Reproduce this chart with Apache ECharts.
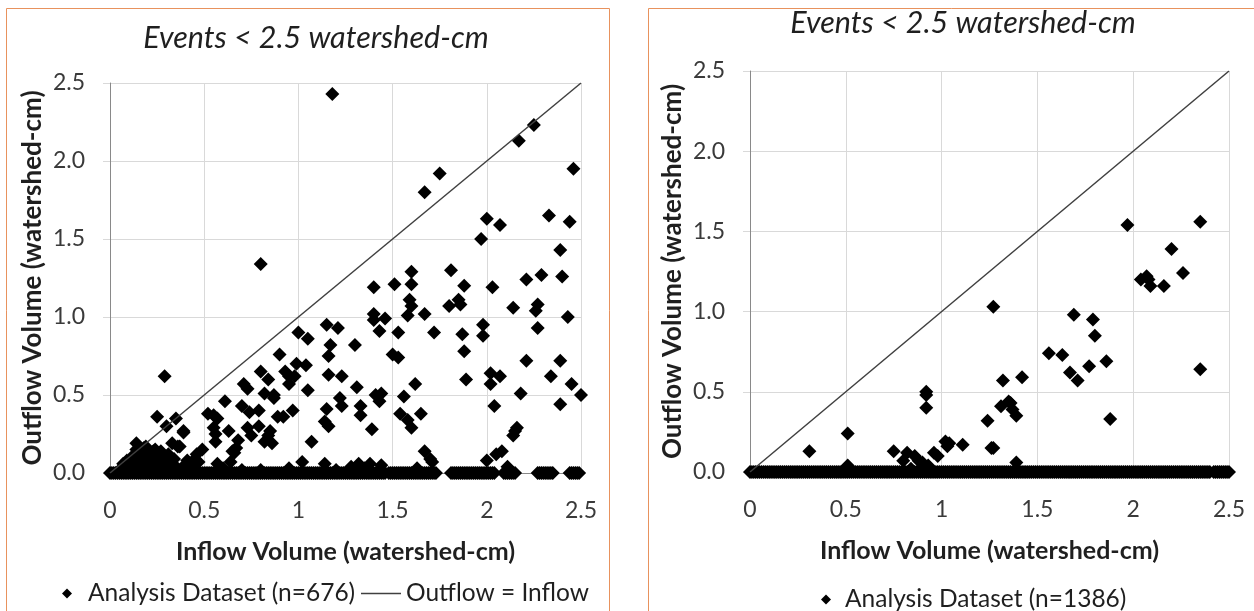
<!DOCTYPE html>
<html>
<head>
<meta charset="utf-8">
<script src="https://cdn.jsdelivr.net/npm/echarts@6.0.0/dist/echarts.min.js"></script>
<style>
html, body { margin: 0; padding: 0; background: #fff; }
#main { width: 1254px; height: 611px; }
</style>
</head>
<body>
<div id="main"></div>
<script>
// 数据
var titleText = 'Events < 2.5 watershed-cm';
var xName = 'Inflow Volume (watershed-cm)';
var yName = 'Outflow Volume (watershed-cm)';
var xTickLabels = ['0', '0.5', '1', '1.5', '2', '2.5'];
var yTickLabels = ['0.0', '0.5', '1.0', '1.5', '2.0', '2.5'];
var leftSeriesName = 'Analysis Dataset (n=676)';
var rightSeriesName = 'Analysis Dataset (n=1386)';
var lineName = 'Outflow = Inflow';
var onePoints = [[0, 0], [2.5, 2.5]];

// left panel, points above zero
var leftPoints = [
    [1.18,2.43],[1.75,1.92],[1.67,1.80],[2.17,2.13],[2.25,2.23],[2.46,1.95],
    [2.00,1.63],[2.07,1.59],[1.97,1.50],[2.33,1.65],[2.44,1.61],[2.39,1.43],
    [0.80,1.34],[1.60,1.29],[1.81,1.30],[2.29,1.27],[2.40,1.26],[2.21,1.24],
    [1.51,1.21],[1.60,1.21],[1.40,1.19],[1.88,1.20],[2.03,1.19],
    [1.59,1.11],[1.60,1.07],[1.85,1.11],[1.80,1.07],[1.86,1.08],[2.14,1.06],[2.27,1.08],[2.26,1.04],
    [1.40,1.02],[1.58,1.01],[1.67,1.02],[1.40,0.98],[1.46,0.99],[2.43,1.00],[1.98,0.95],
    [1.15,0.95],[1.21,0.93],[1.00,0.90],[1.43,0.91],[1.53,0.90],[1.72,0.90],[1.87,0.89],[1.98,0.88],[2.27,0.93],
    [1.05,0.86],[1.30,0.82],[1.17,0.82],[0.90,0.76],[1.16,0.75],[1.50,0.76],[1.53,0.74],[1.88,0.78],[2.21,0.72],[2.39,0.72],
    [0.99,0.70],[1.04,0.69],[0.93,0.65],[0.80,0.65],[1.16,0.63],[1.23,0.62],[0.29,0.62],[0.95,0.62],[0.98,0.62],
    [2.02,0.64],[2.07,0.62],[2.34,0.62],[0.84,0.60],[1.89,0.60],[0.95,0.57],[0.71,0.57],[1.62,0.57],[2.02,0.57],[2.45,0.57],
    [0.73,0.54],[1.31,0.55],[1.05,0.53],[0.61,0.46],[1.56,0.49],[0.82,0.51],[1.44,0.51],[0.87,0.50],[2.18,0.51],[2.50,0.50],
    [1.22,0.48],[1.41,0.50],[0.87,0.48],[1.23,0.43],[0.70,0.43],[1.33,0.43],[1.43,0.46],[2.04,0.43],[2.39,0.44],
    [0.97,0.40],[1.15,0.41],[0.79,0.40],[0.74,0.39],[0.25,0.36],[1.33,0.37],[0.52,0.38],[0.55,0.37],[0.57,0.35],[1.54,0.38],[1.65,0.38],
    [0.35,0.35],[0.89,0.36],[0.92,0.36],[1.58,0.34],[1.14,0.33],[1.60,0.29],[0.30,0.30],[0.55,0.29],[0.79,0.30],[1.16,0.30],
    [2.16,0.29],[2.15,0.27],[0.63,0.27],[0.73,0.29],[0.85,0.27],[1.39,0.28],[0.39,0.27],[0.56,0.25],[0.75,0.24],[0.84,0.24],[2.14,0.24],
    [0.56,0.20],[0.68,0.21],[0.82,0.20],[0.86,0.19],[1.07,0.20],[0.14,0.19],[0.33,0.19],[0.37,0.17],[0.18,0.16],[0.67,0.16],[0.24,0.15],
    [2.08,0.14],[1.67,0.14],[0.49,0.15],[0.66,0.13],[0.27,0.14],[2.05,0.12],[1.70,0.09],[1.71,0.07],[2.00,0.08],[0.46,0.12],
    [1.02,0.07],[1.14,0.06],[1.38,0.06],[1.44,0.05],[0.57,0.06],[0.64,0.07],[1.32,0.06],[2.11,0.04],[0.45,0.09],[1.63,0.03],
    [0.16,0.14],[0.23,0.14],[0.36,0.17],[0.39,0.26],[0.47,0.07],[0.65,0.14],[0.13,0.04],[0.05,0.02],[0.08,0.04],[0.10,0.03],
    [0.12,0.06],[0.15,0.08],[0.17,0.05],[0.19,0.03],[0.20,0.07],[0.22,0.04],[0.26,0.06],[0.28,0.03],[0.30,0.05],[0.35,0.04],
    [0.38,0.03],[0.40,0.05],[0.15,0.11],[0.18,0.10],[0.20,0.12],[0.11,0.09],[0.25,0.09],[0.60,0.03],[0.80,0.02],[0.95,0.03],
    [1.20,0.02],[1.28,0.04],[1.35,0.03],[0.70,0.02],
    [0.07,0.06],[0.09,0.08],[0.13,0.12],[0.21,0.09],[0.23,0.06],[0.27,0.08],[0.29,0.10],[0.32,0.07],[0.34,0.09],
    [0.41,0.08],[0.43,0.04],[0.16,0.03],[0.24,0.12],[0.31,0.12],[0.14,0.15],[0.19,0.17]
];
// left panel, the dense band of points sitting on zero
var leftZeroX = [
    0.00,0.01,0.02,0.03,0.04,0.05,0.06,0.07,0.08,0.09,0.10,0.11,0.12,0.13,0.14,0.15,0.16,0.17,0.18,0.19,
    0.20,0.21,0.22,0.23,0.24,0.25,0.26,0.27,0.28,0.29,0.30,0.31,0.32,0.33,0.34,0.35,0.36,0.37,0.38,0.39,
    0.40,0.41,0.42,0.43,0.44,0.45,0.46,0.47,0.48,0.49,0.50,0.51,0.52,0.53,0.54,0.55,0.56,0.57,0.58,0.59,
    0.60,0.61,0.62,0.63,0.64,0.65,0.66,0.67,0.68,0.69,0.70,0.71,0.72,0.73,0.74,0.75,0.76,0.77,0.78,0.79,
    0.80,0.81,0.82,0.83,0.84,0.85,0.86,0.87,0.88,0.89,0.90,0.91,0.92,0.93,0.94,0.95,0.96,0.97,0.98,0.99,
    1.00,1.01,1.02,1.03,1.04,1.05,1.06,1.07,1.08,1.09,1.10,1.11,1.12,1.13,1.14,1.15,1.16,1.17,1.18,1.19,
    1.20,1.21,1.22,1.23,1.24,1.25,1.26,1.27,1.28,1.29,1.30,1.31,1.32,1.33,1.34,1.35,1.36,1.37,1.38,1.39,
    1.40,1.41,1.42,1.43,1.44,1.45,1.46,
    1.48,1.49,1.50,1.51,1.52,1.53,1.54,1.55,1.56,1.57,1.58,1.59,1.60,1.61,1.62,1.63,1.64,1.65,1.66,1.67,
    1.68,1.69,1.70,1.71,1.72,1.73,
    1.81,1.82,1.83,1.84,1.85,1.86,1.87,1.88,1.89,1.90,1.91,1.92,1.93,1.94,1.95,1.96,1.97,1.98,1.99,2.00,
    2.01,2.02,2.03,2.04,
    2.09,2.10,2.11,2.12,2.13,2.14,2.15,
    2.27,2.28,2.29,2.30,2.31,2.32,2.33,2.34,2.35,
    2.44,2.45,2.46,2.47,2.48,2.49
];

// right panel, points above zero
var rightPoints = [
    [2.35,1.56],[1.97,1.54],[2.20,1.39],[2.26,1.24],[2.04,1.20],[2.07,1.22],[2.08,1.20],[2.09,1.16],[2.16,1.16],
    [1.27,1.03],[1.69,0.98],[1.79,0.95],[1.80,0.85],[1.56,0.74],[1.63,0.73],[1.86,0.69],[1.67,0.62],[1.77,0.66],
    [1.71,0.57],[2.35,0.64],[1.32,0.57],[1.42,0.59],[0.92,0.50],[0.92,0.48],[0.92,0.40],[1.31,0.41],[1.35,0.44],
    [1.36,0.43],[1.37,0.39],[1.39,0.35],[1.24,0.32],[1.88,0.33],[0.51,0.24],[0.31,0.13],[0.75,0.13],[0.82,0.12],
    [0.80,0.07],[0.86,0.10],[0.88,0.07],[0.90,0.06],[0.96,0.12],[0.98,0.10],[1.02,0.19],[1.04,0.18],[1.03,0.16],
    [1.11,0.17],[1.26,0.15],[1.27,0.15],[1.39,0.06],[0.51,0.04],[0.93,0.04],[0.91,0.03],[0.84,0.02]
];
// right panel, the dense band of points sitting on zero
var rightZeroX = [
    0.00,0.01,0.02,0.03,0.04,0.05,0.06,0.07,0.08,0.09,0.10,0.11,0.12,0.13,0.14,0.15,0.16,0.17,0.18,0.19,
    0.20,0.21,0.22,0.23,0.24,0.25,0.26,0.27,0.28,0.29,0.30,0.31,0.32,0.33,0.34,0.35,0.36,0.37,0.38,0.39,
    0.40,0.41,0.42,0.43,0.44,0.45,0.46,0.47,0.48,0.49,0.50,0.51,0.52,0.53,0.54,0.55,0.56,0.57,0.58,0.59,
    0.60,0.61,0.62,0.63,0.64,0.65,0.66,0.67,0.68,0.69,0.70,0.71,0.72,0.73,0.74,0.75,0.76,0.77,0.78,0.79,
    0.80,0.81,0.82,0.83,0.84,0.85,0.86,0.87,0.88,0.89,0.90,0.91,0.92,0.93,0.94,0.95,0.96,0.97,0.98,0.99,
    1.00,1.01,1.02,1.03,1.04,1.05,1.06,1.07,1.08,1.09,1.10,1.11,1.12,1.13,1.14,1.15,1.16,1.17,1.18,1.19,
    1.20,1.21,1.22,1.23,1.24,1.25,1.26,1.27,1.28,1.29,1.30,1.31,1.32,1.33,1.34,1.35,1.36,1.37,1.38,1.39,
    1.40,1.41,1.42,1.43,1.44,1.45,1.46,1.47,1.48,1.49,1.50,1.51,1.52,1.53,1.54,1.55,1.56,1.57,1.58,1.59,
    1.60,1.61,1.62,1.63,1.64,1.65,1.66,1.67,1.68,1.69,1.70,1.71,1.72,1.73,1.74,1.75,1.76,1.77,1.78,1.79,
    1.80,1.81,1.82,1.83,1.84,1.85,1.86,1.87,1.88,1.89,1.90,1.91,1.92,1.93,1.94,1.95,1.96,1.97,1.98,1.99,
    2.00,2.01,2.02,2.03,2.04,2.05,2.06,2.07,2.08,2.09,2.10,2.11,2.12,2.13,2.14,2.15,2.16,2.17,2.18,2.19,
    2.20,2.21,2.22,2.23,2.24,2.25,2.26,2.27,2.28,2.29,2.30,2.31,2.32,2.33,2.34,2.35,2.36,2.37,2.38,2.39,
    2.40,2.42,2.43,2.44,2.45,2.46,2.47,2.48,2.49,2.50
];

var FONT = 'Lato';
var TEXT_COLOR = '#1f1f1f';
var GRID_COLOR = '#d9d9d9';
var FRAME_COLOR = '#e8925d';

function onZero(xs) {
    return xs.map(function (x) { return [x, 0]; });
}

function tickLabel(labels) {
    return function (v) {
        return labels[Math.round(v / 0.5)];
    };
}

function xAxisOf(gridIndex) {
    return {
        gridIndex: gridIndex,
        type: 'value',
        min: 0, max: 2.5, interval: 0.5,
        name: xName,
        nameLocation: 'middle',
        nameGap: 66,
        nameTextStyle: { fontFamily: FONT, fontSize: 25, fontWeight: 'bold', color: TEXT_COLOR },
        axisLine: { lineStyle: { color: '#898989', width: 1 } },
        axisTick: { show: false },
        axisLabel: { formatter: tickLabel(xTickLabels), fontFamily: FONT, fontSize: 23, color: '#3a3a3a', margin: 26 },
        splitLine: { lineStyle: { color: GRID_COLOR, width: 1 } }
    };
}

function yAxisOf(gridIndex) {
    return {
        gridIndex: gridIndex,
        type: 'value',
        min: 0, max: 2.5, interval: 0.5,
        name: yName,
        nameLocation: 'middle',
        nameGap: 64,
        nameTextStyle: { fontFamily: FONT, fontSize: 26, fontWeight: 'bold', color: TEXT_COLOR },
        axisLine: { show: true, lineStyle: { color: '#898989', width: 1 } },
        axisTick: { show: true, length: 7, lineStyle: { color: GRID_COLOR } },
        axisLabel: { formatter: tickLabel(yTickLabels), fontFamily: FONT, fontSize: 23, color: '#3a3a3a', margin: 25 },
        splitLine: { lineStyle: { color: GRID_COLOR, width: 1 } }
    };
}

function legendTextOf(padLeft) {
    return { fontFamily: FONT, fontSize: 24.5, color: TEXT_COLOR, padding: [0, 0, 0, padLeft] };
}

var chart = echarts.init(document.getElementById('main'));

var option = {
    backgroundColor: '#fff',
    animation: false,
    title: [
        { text: titleText, left: 311, top: 18, textAlign: 'center',
          textStyle: { fontFamily: FONT, fontSize: 30.5, fontStyle: 'italic', fontWeight: 'normal', color: TEXT_COLOR } },
        { text: titleText, left: 958, top: 3, textAlign: 'center',
          textStyle: { fontFamily: FONT, fontSize: 30.5, fontStyle: 'italic', fontWeight: 'normal', color: TEXT_COLOR } }
    ],
    legend: [
        { data: [leftSeriesName], left: 57, top: 576, itemWidth: 10, itemHeight: 10, icon: 'diamond',
          itemStyle: { opacity: 1 }, textStyle: legendTextOf(11) },
        { data: [{ name: lineName, icon: 'rect' }], left: 356, top: 576, itemWidth: 40, itemHeight: 1.5,
          textStyle: legendTextOf(0) },
        { data: [rightSeriesName], left: 816, top: 582, itemWidth: 10, itemHeight: 10, icon: 'diamond',
          itemStyle: { opacity: 1 }, textStyle: legendTextOf(9) }
    ],
    grid: [
        { left: 110, top: 83, width: 471, height: 390 },
        { left: 750, top: 71, width: 479, height: 401 }
    ],
    xAxis: [xAxisOf(0), xAxisOf(1)],
    yAxis: [yAxisOf(0), yAxisOf(1)],
    graphic: [
        { type: 'rect', silent: true, z: -1,
          shape: { x: 6.5, y: 8.5, width: 603, height: 640 },
          style: { fill: 'none', stroke: FRAME_COLOR, lineWidth: 1 } },
        { type: 'rect', silent: true, z: -1,
          shape: { x: 648.5, y: 8.5, width: 640, height: 640 },
          style: { fill: 'none', stroke: FRAME_COLOR, lineWidth: 1 } }
    ],
    series: [
        {
            name: leftSeriesName, type: 'scatter', xAxisIndex: 0, yAxisIndex: 0,
            symbol: 'diamond', symbolSize: 14,
            itemStyle: { color: '#000', opacity: 1 },
            data: leftPoints.concat(onZero(leftZeroX))
        },
        {
            name: lineName, type: 'line', xAxisIndex: 0, yAxisIndex: 0,
            symbol: 'none', lineStyle: { color: '#404040', width: 1.5 },
            itemStyle: { color: '#404040' },
            data: onePoints
        },
        {
            name: rightSeriesName, type: 'scatter', xAxisIndex: 1, yAxisIndex: 1,
            symbol: 'diamond', symbolSize: 14,
            itemStyle: { color: '#000', opacity: 1 },
            data: rightPoints.concat(onZero(rightZeroX))
        },
        {
            name: 'diag-right', type: 'line', xAxisIndex: 1, yAxisIndex: 1,
            symbol: 'none', lineStyle: { color: '#404040', width: 1.5 },
            data: onePoints
        }
    ]
};

chart.setOption(option);
</script>
</body>
</html>
